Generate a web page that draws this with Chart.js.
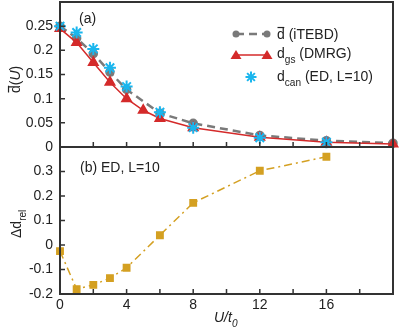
<!DOCTYPE html>
<html>
<head>
<meta charset="utf-8">
<script src="https://cdn.jsdelivr.net/npm/chart.js@4.4.0/dist/chart.umd.min.js"></script>
<style>
  html, body { margin: 0; padding: 0; background: #fff; }
  #wrap { position: relative; width: 399px; height: 330px; }
  #topBox { position: absolute; left: 0; top: 0; width: 399px; height: 160px; }
  #botBox { position: absolute; left: 0; top: 147px; width: 399px; height: 183px; }
</style>
</head>
<body>
<div id="wrap">
  <div id="botBox"><canvas id="botChart"></canvas></div>
  <div id="topBox"><canvas id="topChart"></canvas></div>
</div>
<script>
// Data
const uIteBD = [0, 1, 2, 3, 4, 6, 8, 12, 16, 20];
const dIteBD = [0.25, 0.225, 0.193, 0.155, 0.119, 0.07, 0.049, 0.024, 0.013, 0.008];

const uDmrg = [0, 1, 2, 3, 4, 5, 6, 8, 12, 16, 20];
const dDmrg = [0.245, 0.216, 0.175, 0.134, 0.1, 0.076, 0.059, 0.04, 0.02, 0.01, 0.006];

const uCan = [0, 1, 2, 3, 4, 6, 8, 12, 16];
const dCan = [0.25, 0.237, 0.203, 0.164, 0.125, 0.072, 0.04, 0.019, 0.01];

const uRel = [0, 1, 2, 3, 4, 6, 8, 12, 16];
const dRel = [-0.025, -0.18, -0.163, -0.135, -0.093, 0.04, 0.172, 0.303, 0.36];

const xMajorTicks = [0, 4, 8, 12, 16];
const topYTicks = [0, 0.05, 0.1, 0.15, 0.2, 0.25];
const botYTicks = [-0.2, -0.1, 0, 0.1, 0.2, 0.3];

const FONT = '"Liberation Sans", Arial, sans-serif';
const INK = '#222';
const FRAME = '#333';
const GREY = '#7a7a7a';
const RED = '#d42a2a';
const CYAN = '#1ab6ee';
const GOLD = '#d4a022';

const pts = (xs, ys) => xs.map((x, i) => ({ x, y: ys[i] }));

// draw "main" + subscript pieces, optional overline on the main letter
function drawRich(ctx, x, y, parts, size) {
    let cx = x;
    parts.forEach(p => {
        const fs = p.sub ? size * 0.72 : size;
        ctx.font = (p.italic ? 'italic ' : '') + fs + 'px ' + FONT;
        const dy = p.sub ? size * 0.35 : 0;
        ctx.fillText(p.t, cx, y + dy);
        const w = ctx.measureText(p.t).width;
        if (p.over) {
            ctx.save();
            ctx.lineWidth = 1.2;
            ctx.strokeStyle = ctx.fillStyle;
            ctx.beginPath();
            ctx.moveTo(cx + 0.5, y - size * 0.82);
            ctx.lineTo(cx + w - 0.5, y - size * 0.82);
            ctx.stroke();
            ctx.restore();
        }
        cx += w;
    });
    return cx;
}

// frame and inward ticks drawn through the chart's own scales
const framePlugin = {
    id: 'frame',
    afterDraw(chart, args, opts) {
        const { ctx, chartArea: a, scales } = chart;
        ctx.save();
        ctx.strokeStyle = FRAME;
        ctx.lineWidth = 2;
        ctx.strokeRect(a.left, a.top, a.right - a.left, a.bottom - a.top);
        ctx.lineWidth = 1.5;
        ctx.beginPath();
        for (let v = 2; v < 20; v += 2) {
            const px = scales.x.getPixelForValue(v);
            ctx.moveTo(px, a.bottom);
            ctx.lineTo(px, a.bottom - 5);
        }
        opts.yTicks.forEach(v => {
            const py = scales.y.getPixelForValue(v);
            ctx.moveTo(a.left, py);
            ctx.lineTo(a.left + 5, py);
        });
        ctx.stroke();
        ctx.restore();
    }
};

const topAnnot = {
    id: 'topAnnot',
    afterDraw(chart) {
        const { ctx } = chart;
        ctx.save();
        ctx.fillStyle = INK;
        ctx.textBaseline = 'alphabetic';
        ctx.textAlign = 'left';
        ctx.font = '14px ' + FONT;
        ctx.fillText('(a)', 79, 23);

        // legend
        const lx0 = 236, lx1 = 267, tx = 277;
        // row 1: iTEBD
        ctx.strokeStyle = GREY;
        ctx.lineWidth = 2.5;
        ctx.setLineDash([8, 5]);
        ctx.beginPath(); ctx.moveTo(lx0, 34); ctx.lineTo(lx1, 34); ctx.stroke();
        ctx.setLineDash([]);
        ctx.fillStyle = GREY;
        [lx0, lx1].forEach(x => { ctx.beginPath(); ctx.arc(x, 34, 3.5, 0, Math.PI * 2); ctx.fill(); });
        ctx.fillStyle = INK;
        drawRich(ctx, tx, 39, [{ t: 'd', over: true }, { t: ' (iTEBD)' }], 14);
        // row 2: DMRG
        ctx.strokeStyle = RED;
        ctx.lineWidth = 1.5;
        ctx.beginPath(); ctx.moveTo(lx0, 55); ctx.lineTo(lx1, 55); ctx.stroke();
        ctx.fillStyle = RED;
        [lx0, lx1].forEach(x => {
            ctx.beginPath(); ctx.moveTo(x, 50); ctx.lineTo(x - 5.5, 59); ctx.lineTo(x + 5.5, 59); ctx.closePath(); ctx.fill();
        });
        ctx.fillStyle = INK;
        drawRich(ctx, tx, 58, [{ t: 'd' }, { t: 'gs', sub: true }, { t: ' (DMRG)' }], 14);
        // row 3: canonical ED
        ctx.strokeStyle = CYAN;
        ctx.lineWidth = 2;
        const sx = 251, sy = 77, r = 5.5;
        ctx.beginPath();
        for (let k = 0; k < 4; k++) {
            const ang = k * Math.PI / 4;
            ctx.moveTo(sx - r * Math.cos(ang), sy - r * Math.sin(ang));
            ctx.lineTo(sx + r * Math.cos(ang), sy + r * Math.sin(ang));
        }
        ctx.stroke();
        ctx.fillStyle = INK;
        drawRich(ctx, tx, 81, [{ t: 'd' }, { t: 'can', sub: true }, { t: ' (ED, L=10)' }], 14);

        // y title
        ctx.translate(15, 74);
        ctx.rotate(-Math.PI / 2);
        drawRich(ctx, -19, 5, [{ t: 'd', over: true }, { t: '(' }, { t: 'U', italic: true }, { t: ')' }], 14);
        ctx.restore();
    }
};

const botAnnot = {
    id: 'botAnnot',
    afterDraw(chart) {
        const { ctx } = chart;
        ctx.save();
        ctx.fillStyle = INK;
        ctx.textAlign = 'left';
        ctx.font = '14px ' + FONT;
        ctx.fillText('(b) ED, L=10', 80, 25);
        // x title
        drawRich(ctx, 214, 175, [{ t: 'U/t', italic: true }, { t: '0', sub: true, italic: true }], 14);
        // y title
        ctx.translate(16, 75);
        ctx.rotate(-Math.PI / 2);
        drawRich(ctx, -16, 5, [{ t: '\u0394d' }, { t: 'rel', sub: true }], 14);
        ctx.restore();
    }
};

const tickFont = { family: FONT, size: 14 };
const fmt = v => String(Number(v.toFixed(2)));

function yAxis(min, max, step, shown) {
    return {
        min, max,
        border: { display: false },
        grid: { display: false, drawTicks: false },
        ticks: {
            stepSize: step,
            color: INK,
            font: tickFont,
            padding: 7,
            callback: v => shown.some(s => Math.abs(s - v) < 1e-6) ? fmt(v) : ''
        },
        afterFit(scale) {
            scale.width = 60;
            scale.paddingTop = 0;
            scale.paddingBottom = 0;
        }
    };
}

const topChart = new Chart(document.getElementById('topChart'), {
    type: 'scatter',
    data: {
        datasets: [
            {
                label: 'iTEBD',
                data: pts(uIteBD, dIteBD),
                showLine: true,
                borderColor: GREY,
                backgroundColor: GREY,
                borderWidth: 2.5,
                borderDash: [8, 5],
                pointRadius: 3.5,
                pointStyle: 'circle',
                clip: false,
                order: 3
            },
            {
                label: 'DMRG',
                data: pts(uDmrg, dDmrg),
                showLine: true,
                borderColor: RED,
                backgroundColor: RED,
                borderWidth: 1.5,
                pointRadius: 5.5,
                pointStyle: 'triangle',
                clip: false,
                order: 2
            },
            {
                label: 'ED',
                data: pts(uCan, dCan),
                showLine: false,
                borderColor: CYAN,
                backgroundColor: CYAN,
                borderWidth: 2,
                pointRadius: 6,
                pointStyle: 'star',
                clip: false,
                order: 1
            }
        ]
    },
    options: {
        responsive: true,
        maintainAspectRatio: false,
        animation: false,
        layout: { autoPadding: false, padding: { top: 2, right: 6, bottom: 13, left: 0 } },
        scales: {
            x: { type: 'linear', min: 0, max: 20, display: false },
            y: yAxis(0, 0.3, 0.05, topYTicks)
        },
        plugins: {
            legend: { display: false },
            tooltip: { enabled: false },
            frame: { yTicks: topYTicks }
        }
    },
    plugins: [framePlugin, topAnnot]
});

const botChart = new Chart(document.getElementById('botChart'), {
    type: 'scatter',
    data: {
        datasets: [{
            label: 'rel',
            data: pts(uRel, dRel),
            showLine: true,
            borderColor: GOLD,
            backgroundColor: GOLD,
            borderWidth: 1.5,
            borderDash: [8, 4, 2, 4],
            pointRadius: 4.5,
            pointStyle: 'rect',
            clip: false
        }]
    },
    options: {
        responsive: true,
        maintainAspectRatio: false,
        animation: false,
        layout: { autoPadding: false, padding: { top: 0, right: 6, bottom: 0, left: 0 } },
        scales: {
            x: {
                type: 'linear', min: 0, max: 20,
                border: { display: false },
                grid: { display: false, drawTicks: false },
                ticks: {
                    stepSize: 2,
                    color: INK,
                    font: tickFont,
                    padding: 3,
                    maxRotation: 0,
                    autoSkip: false,
                    callback: v => xMajorTicks.includes(v) ? String(v) : ''
                },
                afterFit(scale) {
                    scale.height = 36;
                    scale.paddingLeft = 0;
                    scale.paddingRight = 0;
                }
            },
            y: yAxis(-0.2, 0.4, 0.1, botYTicks)
        },
        plugins: {
            legend: { display: false },
            tooltip: { enabled: false },
            frame: { yTicks: botYTicks }
        }
    },
    plugins: [framePlugin, botAnnot]
});
</script>
</body>
</html>
